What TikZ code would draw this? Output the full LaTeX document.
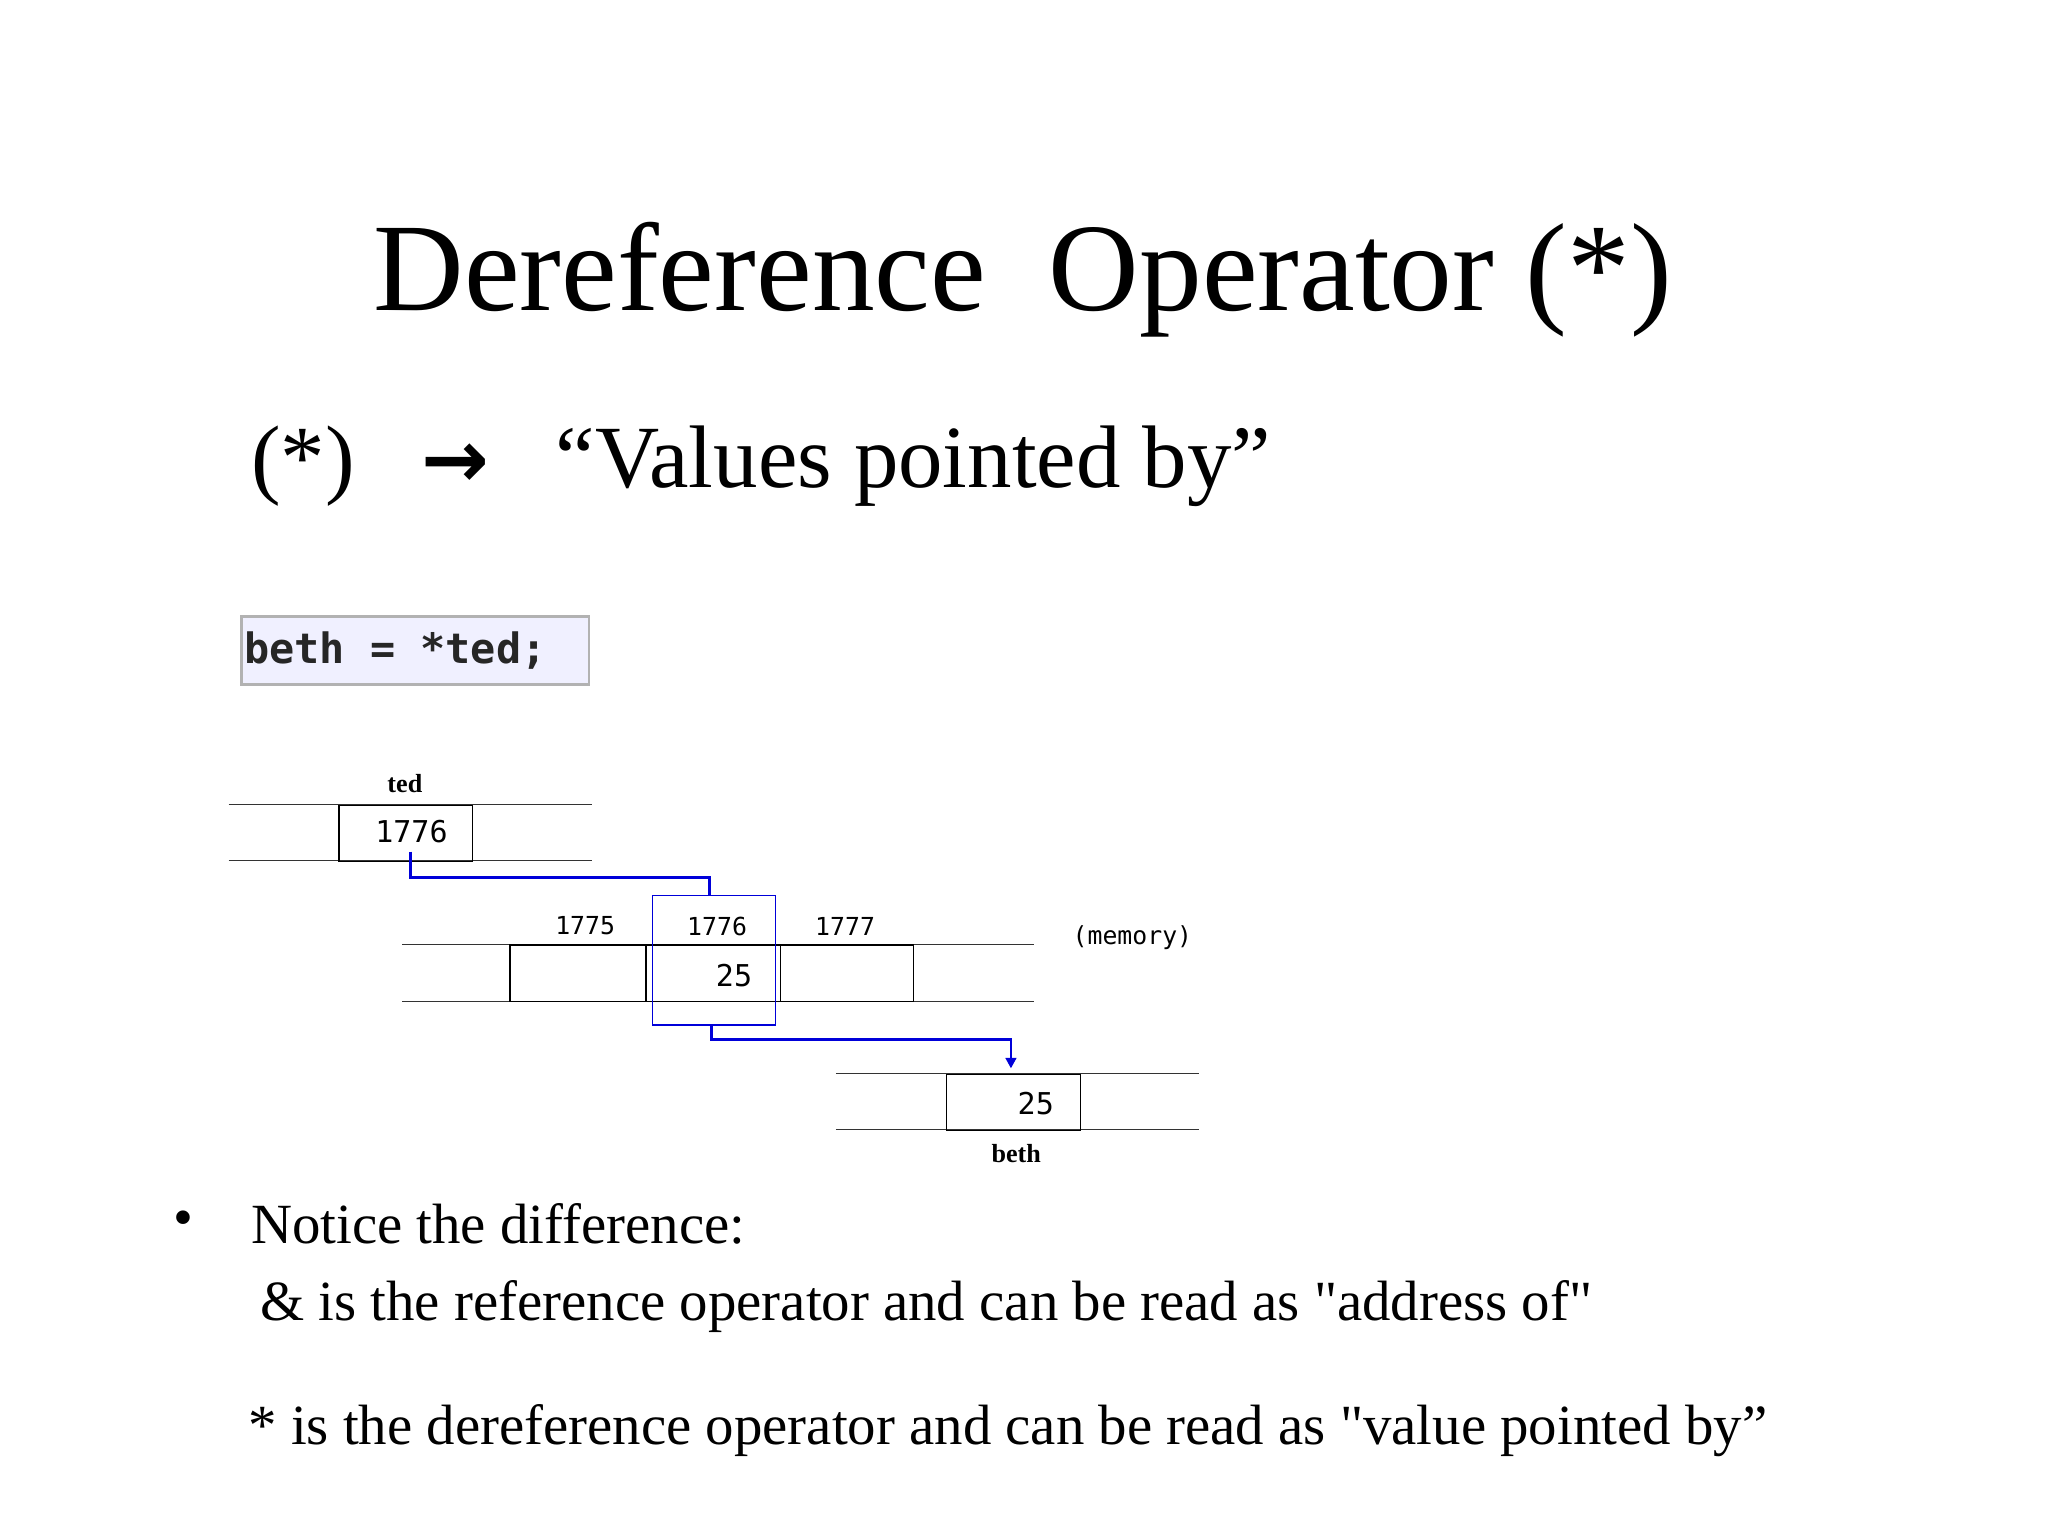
\documentclass[tikz,border=0pt]{standalone}
\usepackage{fontspec}
\setmainfont{Liberation Serif}
\newfontfamily\qfont{Liberation Serif}
\newfontfamily\arrowfont{DejaVu Sans}
\setmonofont{DejaVu Sans Mono}
\usetikzlibrary{arrows.meta}
\newcommand{\sq}{{\qfont"}}
\begin{document}
\begin{tikzpicture}[x=1pt,y=-1pt,
  cell/.style={draw=black,line width=1pt,minimum width=#1,minimum height=43,inner sep=0,anchor=north west},
  rowline/.style={line width=0.9pt,draw=black!80},
  lab/.style={font=\ttfamily\fontsize{19}{19}\selectfont,inner sep=0},
  val/.style={font=\ttfamily\fontsize{23}{23}\selectfont,inner sep=0},
  ptr/.style={draw=blue!85!black,line width=2.2pt},
  txt/.style={anchor=west,inner sep=0}]
\useasboundingbox (0,0) rectangle (1568,1176);
\node[inner sep=0,font=\fontsize{96}{96}\selectfont] (title) at (783,214) {Dereference\ \ Operator (*)};
\node[txt,font=\fontsize{68}{68}\selectfont] (sub) at (192,357) {(*)\ \ \ {\arrowfont\bfseries\fontsize{62}{62}\selectfont →}\ \ \ “Values pointed by”};
\node[draw=black!30,line width=2pt,fill=blue!6,minimum width=266,minimum height=52,inner sep=0,anchor=north west] (code) at (184,471) {};
\node[txt,font=\ttfamily\bfseries\fontsize{32}{32}\selectfont,text=black!85] (codet) at (187,498) {beth = *ted;};
% ted
\draw[rowline] (175,616) -- (453,616) (175,659) -- (453,659);
\node[cell=102] (ted) at (259,616) {};
\node[val] (tedv) at (315,637) {1776};
\node[lab,font=\bfseries\fontsize{20}{20}\selectfont] (tedl) at (310,600) {ted};
% memory
\draw[rowline] (308,723) -- (792,723) (308,767) -- (792,767);
\node[cell=104] (m1) at (390,723) {};
\node[cell=103] (m2) at (494,723) {};
\node[cell=102] (m3) at (597,723) {};
\node[lab] (l1) at (448,709) {1775};
\node[lab] (l2) at (549,709) {1776};
\node[lab] (l3) at (647,709) {1777};
\node[val] (mv) at (562,747) {25};
\node[draw=blue!85!black,line width=1.2pt,minimum width=94,minimum height=99,inner sep=0,anchor=north west] (hl) at (499,685) {};
\node[lab] (mem) at (867,718) {(memory)};
% beth
\draw[rowline] (640,822) -- (918,822) (640,865) -- (918,865);
\node[cell=103] (beth) at (724,822) {};
\node[val] (bethv) at (793,845) {25};
\node[lab,font=\bfseries\fontsize{20}{20}\selectfont] (bethl) at (778,883) {beth};
% pointers
\coordinate (p0) at (314,652);
\draw[ptr] (p0) |- (543,672) -- (hl.north -| 543,0);
\draw[ptr,-{Triangle[length=8pt,width=8pt]}] (545,784) |- (774,796) -- (774,818);
% text
\node[txt,font=\fontsize{43.5}{43.5}\selectfont] (bul) at (133,937) {•};
\node[txt,font=\fontsize{43.5}{43.5}\selectfont] (t1) at (192,937) {Notice the difference:};
\node[txt,font=\fontsize{43.5}{43.5}\selectfont] (t2) at (199,1000) {\& is the reference operator and can be read as \sq address of\sq};
\node[txt,font=\fontsize{43.5}{43.5}\selectfont] (t3) at (190,1095) {* is the dereference operator and can be read as \sq value pointed by”};
\end{tikzpicture}
\end{document}
